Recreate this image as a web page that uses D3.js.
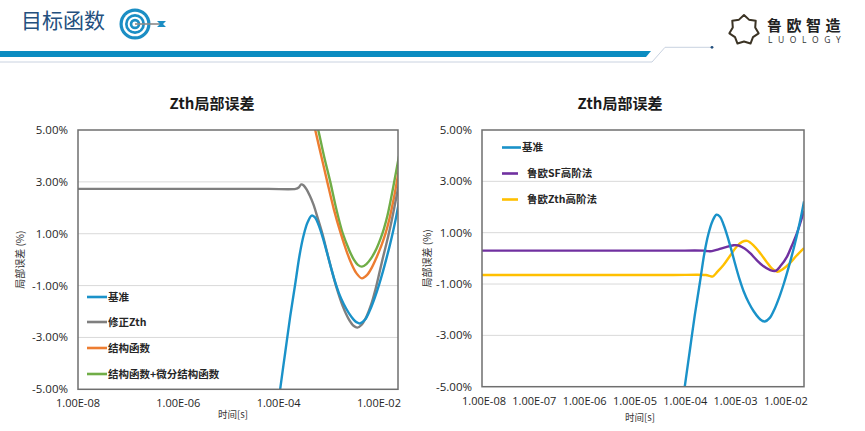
<!DOCTYPE html>
<html>
<head>
<meta charset="utf-8">
<script src="https://cdn.jsdelivr.net/npm/d3@7"></script>
<style>
  html, body { margin: 0; padding: 0; background: #fff; }
  svg { display: block; }
  text { font-family: 'Open Sans', 'Noto Sans CJK SC', sans-serif; }
  .cjk { font-family: 'Noto Sans CJK SC', 'Open Sans', sans-serif; }
</style>
</head>
<body>
<div id="chart"></div>
<script>
// series: [log10(time in s), error in %]
const baseline = [
  [-4.05, -6.3], [-3.97, -5.0], [-3.87, -3.6], [-3.77, -2.2], [-3.67, -0.95],
  [-3.58, 0.2], [-3.5, 0.95], [-3.42, 1.45], [-3.34, 1.7], [-3.27, 1.62],
  [-3.2, 1.32], [-3.12, 0.85], [-3.04, 0.3], [-2.96, -0.28], [-2.88, -0.82],
  [-2.8, -1.28], [-2.7, -1.72], [-2.6, -2.06], [-2.5, -2.32], [-2.44, -2.42],
  [-2.38, -2.46], [-2.28, -2.32], [-2.18, -1.95], [-2.08, -1.45], [-2.0, -0.98],
  [-1.92, -0.45], [-1.85, 0.05], [-1.78, 0.58], [-1.72, 1.08], [-1.66, 1.62],
  [-1.6, 2.22]
]
const correctedZth = [
  [-8, 2.73], [-7, 2.73], [-6, 2.73], [-5, 2.73], [-4.2, 2.73], [-3.66, 2.73],
  [-3.6, 2.78], [-3.55, 2.9], [-3.5, 2.86], [-3.44, 2.7], [-3.38, 2.47],
  [-3.31, 2.15], [-3.22, 1.6], [-3.12, 0.95], [-3.03, 0.25], [-2.95, -0.35],
  [-2.85, -1.05], [-2.72, -1.8], [-2.6, -2.3], [-2.5, -2.56], [-2.43, -2.62],
  [-2.35, -2.52], [-2.25, -2.2], [-2.15, -1.7], [-2.07, -1.15], [-1.99, -0.5],
  [-1.92, 0.08], [-1.85, 0.62], [-1.78, 1.2], [-1.71, 1.85], [-1.6, 2.95]
]
const structFn = [
  [-3.35, 5.7], [-3.27, 5.0], [-3.15, 4.0], [-3.03, 3.0], [-2.9, 1.95],
  [-2.76, 1.0], [-2.65, 0.35], [-2.55, -0.15], [-2.45, -0.52], [-2.34, -0.72],
  [-2.24, -0.6], [-2.14, -0.3], [-2.04, 0.12], [-1.95, 0.55], [-1.87, 1.0],
  [-1.8, 1.5], [-1.74, 2.02], [-1.68, 2.6], [-1.6, 3.5]
]
const structDiffFn = [
  [-3.3, 5.7], [-3.21, 5.0], [-3.09, 3.95], [-2.97, 3.0], [-2.85, 1.95],
  [-2.72, 1.0], [-2.6, 0.4], [-2.5, 0.0], [-2.42, -0.2], [-2.34, -0.27],
  [-2.25, -0.17], [-2.15, 0.07], [-2.05, 0.42], [-1.97, 0.8], [-1.9, 1.2],
  [-1.83, 1.7], [-1.77, 2.25], [-1.71, 2.85], [-1.6, 4.0]
]
const luoSF = [
  [-8, 0.3], [-7, 0.3], [-6, 0.3], [-5, 0.3], [-4.2, 0.3], [-3.6, 0.3],
  [-3.5, 0.28], [-3.43, 0.28], [-3.3, 0.35], [-3.15, 0.44], [-3.0, 0.51],
  [-2.9, 0.5], [-2.78, 0.38], [-2.67, 0.2], [-2.55, -0.05], [-2.41, -0.3],
  [-2.28, -0.45], [-2.17, -0.49], [-2.06, -0.28], [-1.94, 0.06], [-1.84, 0.5],
  [-1.74, 0.98], [-1.6, 1.85]
]
const luoZth = [
  [-8, -0.65], [-7, -0.65], [-6, -0.65], [-5, -0.65], [-4.2, -0.65], [-3.55, -0.65],
  [-3.48, -0.68], [-3.42, -0.71], [-3.32, -0.52], [-3.2, -0.26], [-3.07, 0.1],
  [-2.94, 0.45], [-2.83, 0.64], [-2.73, 0.68], [-2.6, 0.5], [-2.47, 0.2],
  [-2.35, -0.12], [-2.24, -0.39], [-2.13, -0.52], [-2.02, -0.42], [-1.88, -0.19],
  [-1.75, 0.1], [-1.6, 0.4]
]

const yTicks = [-5, -3, -1, 1, 3, 5]
const leftXTicks = [1e-8, 1e-6, 1e-4, 1e-2]
const rightXTicks = [1e-8, 1e-7, 1e-6, 1e-5, 1e-4, 1e-3, 1e-2]

const leftSeries = [
  { name: '基准', data: baseline, color: '#1a92c9' },
  { name: '修正Zth', data: correctedZth, color: '#7f7f7f' },
  { name: '结构函数', data: structFn, color: '#ed7d31' },
  { name: '结构函数+微分结构函数', data: structDiffFn, color: '#70ad47' }
]
const rightSeries = [
  { name: '基准', data: baseline, color: '#1a92c9' },
  { name: '鲁欧SF高阶法', data: luoSF, color: '#7030a0' },
  { name: '鲁欧Zth高阶法', data: luoZth, color: '#ffc000' }
]

const W = 865
const H = 431
const svg = d3.select('#chart').append('svg')
  .attr('width', W)
  .attr('height', H)

// ---------- header ----------
svg.append('text')
  .attr('class', 'cjk')
  .attr('x', 21)
  .attr('y', 28)
  .attr('font-size', 21)
  .attr('fill', '#24507e')
  .text('目标函数')

const icon = svg.append('g').attr('transform', 'translate(135,24)')
;[[15.5, '#1b8ec4'], [12.3, '#fff'], [10, '#1b8ec4'], [7.3, '#fff'], [5.3, '#1b8ec4'], [2.6, '#fff']]
  .forEach(function (c) {
    icon.append('circle').attr('r', c[0]).attr('fill', c[1])
  })
icon.append('line')
  .attr('x1', 0).attr('y1', 0).attr('x2', 26).attr('y2', 0)
  .attr('stroke', '#8a8a8a').attr('stroke-width', 1.6)
icon.append('path')
  .attr('d', 'M22,-3 L31,-3 L28,0 L31,3 L22,3 L25,0 Z')
  .attr('fill', '#1b8ec4')

svg.append('path')
  .attr('d', 'M0,51 L651,51 L646,57 L0,57 Z')
  .attr('fill', '#0b8cc1')
svg.append('path')
  .attr('d', 'M0,62 L652,62 L665,47.3 L712,47.3')
  .attr('fill', 'none')
  .attr('stroke', '#c9d2e0')
  .attr('stroke-width', 1)
svg.append('circle')
  .attr('cx', 712).attr('cy', 47.3).attr('r', 1.4)
  .attr('fill', '#24507e')

const starPts = d3.range(14).map(function (i) {
  const a = -Math.PI / 2 + i * Math.PI / 7
  const r = i % 2 === 0 ? 15 : 11.5
  return [744 + r * Math.cos(a), 30 + r * Math.sin(a)]
})
svg.append('path')
  .attr('d', d3.line().curve(d3.curveLinearClosed)(starPts))
  .attr('fill', 'none')
  .attr('stroke', '#3b3324')
  .attr('stroke-width', 2)
  .attr('stroke-linejoin', 'round')
svg.append('text')
  .attr('class', 'cjk')
  .attr('x', 767)
  .attr('y', 31)
  .attr('font-size', 15)
  .attr('font-weight', 'bold')
  .attr('letter-spacing', 4.5)
  .attr('fill', '#222')
  .text('鲁欧智造')
svg.append('text')
  .attr('x', 768)
  .attr('y', 42.5)
  .attr('font-size', 8.5)
  .attr('letter-spacing', 5.6)
  .attr('fill', '#333')
  .text('LUOLOGY')

// ---------- charts ----------
const fmtX = function (t) {
  return t.toExponential(2).toUpperCase().replace(/E([+-])(\d)$/, 'E$10$2')
}
const fmtY = function (v) { return v.toFixed(2) + '%' }

function drawChart (cfg) {
  const x = d3.scaleLog().domain([1e-8, Math.pow(10, cfg.xMaxExp)]).range([cfg.left, cfg.right])
  const y = d3.scaleLinear().domain([-5, 5]).range([cfg.bottom, cfg.top])
  const g = svg.append('g')

  g.append('text')
    .attr('class', 'cjk')
    .attr('x', cfg.titleX)
    .attr('y', 109)
    .attr('text-anchor', 'middle')
    .attr('font-size', 15)
    .attr('font-weight', 'bold')
    .attr('fill', '#1a1a1a')
    .text('Zth局部误差')

  g.selectAll('line.grid')
    .data(yTicks.filter(function (d) { return d > -5 && d < 5 }))
    .enter().append('line')
    .attr('class', 'grid')
    .attr('x1', cfg.left).attr('x2', cfg.right)
    .attr('y1', function (d) { return y(d) })
    .attr('y2', function (d) { return y(d) })
    .attr('stroke', '#d9d9d9')
    .attr('stroke-width', 1)

  g.selectAll('text.ytick')
    .data(yTicks)
    .enter().append('text')
    .attr('class', 'ytick')
    .attr('x', cfg.left - 10)
    .attr('y', function (d) { return y(d) + 4 })
    .attr('text-anchor', 'end')
    .attr('font-size', 11.5)
    .attr('fill', '#262626')
    .text(fmtY)

  g.selectAll('text.xtick')
    .data(cfg.xTicks)
    .enter().append('text')
    .attr('class', 'xtick')
    .attr('x', function (d) { return x(d) + cfg.xLabelShift })
    .attr('y', cfg.xTickY)
    .attr('text-anchor', 'middle')
    .attr('font-size', 11)
    .attr('fill', '#262626')
    .text(fmtX)

  g.append('text')
    .attr('class', 'cjk')
    .attr('x', cfg.xTitleX)
    .attr('y', cfg.xTitleY)
    .attr('text-anchor', 'middle')
    .attr('font-size', 9.5)
    .attr('fill', '#333')
    .text('时间[s]')

  g.append('text')
    .attr('class', 'cjk')
    .attr('transform', 'translate(' + cfg.yTitleX + ',' + ((cfg.top + cfg.bottom) / 2) + ') rotate(-90)')
    .attr('text-anchor', 'middle')
    .attr('font-size', 10)
    .attr('fill', '#333')
    .text('局部误差 (%)')

  const clipId = 'clip' + cfg.left
  g.append('clipPath').attr('id', clipId)
    .append('rect')
    .attr('x', cfg.left).attr('y', cfg.top)
    .attr('width', cfg.right - cfg.left)
    .attr('height', cfg.bottom - cfg.top)

  const line = d3.line()
    .x(function (d) { return x(Math.pow(10, d[0])) })
    .y(function (d) { return y(d[1]) })
    .curve(d3.curveCatmullRom.alpha(0.5))

  g.append('g').attr('clip-path', 'url(#' + clipId + ')')
    .selectAll('path')
    .data(cfg.series.slice().reverse())
    .enter().append('path')
    .attr('d', function (s) { return line(s.data) })
    .attr('fill', 'none')
    .attr('stroke', function (s) { return s.color })
    .attr('stroke-width', 2.4)
    .attr('stroke-linejoin', 'round')

  g.append('rect')
    .attr('x', cfg.left).attr('y', cfg.top)
    .attr('width', cfg.right - cfg.left)
    .attr('height', cfg.bottom - cfg.top)
    .attr('fill', 'none')
    .attr('stroke', '#6f6f6f')
    .attr('stroke-width', 1.5)

  const leg = g.selectAll('g.leg')
    .data(cfg.series)
    .enter().append('g')
    .attr('class', 'leg')
    .attr('transform', function (d, i) { return 'translate(0,' + cfg.legendY[i] + ')' })
  leg.append('line')
    .attr('x1', cfg.legendX)
    .attr('x2', function (d, i) { return cfg.legendX + cfg.swatchW[i] })
    .attr('y1', 0).attr('y2', 0)
    .attr('stroke', function (d) { return d.color })
    .attr('stroke-width', 2.6)
  leg.append('text')
    .attr('class', 'cjk')
    .attr('x', function (d, i) { return cfg.legendX + cfg.textOff[i] })
    .attr('y', 3.8)
    .attr('font-size', 10.5)
    .attr('font-weight', 'bold')
    .attr('fill', '#262626')
    .text(function (d) { return d.name })
}

drawChart({
  left: 78, right: 398, top: 130, bottom: 389.3, xMaxExp: -1.62,
  xTicks: leftXTicks, xLabelShift: 0, xTickY: 407, xTitleY: 418,
  titleX: 212, xTitleX: 233, yTitleX: 24,
  series: leftSeries,
  legendX: 87, legendY: [297, 322, 348, 374],
  swatchW: [20, 20, 20, 20], textOff: [21, 21, 21, 21]
})

drawChart({
  left: 482, right: 804, top: 130, bottom: 386.7, xMaxExp: -1.6,
  xTicks: rightXTicks, xLabelShift: 2, xTickY: 405, xTitleY: 421,
  titleX: 620, xTitleX: 640, yTitleX: 431,
  series: rightSeries,
  legendX: 502, legendY: [147.5, 173.5, 199.5],
  swatchW: [19, 16, 16], textOff: [20, 25, 25]
})
</script>
</body>
</html>
